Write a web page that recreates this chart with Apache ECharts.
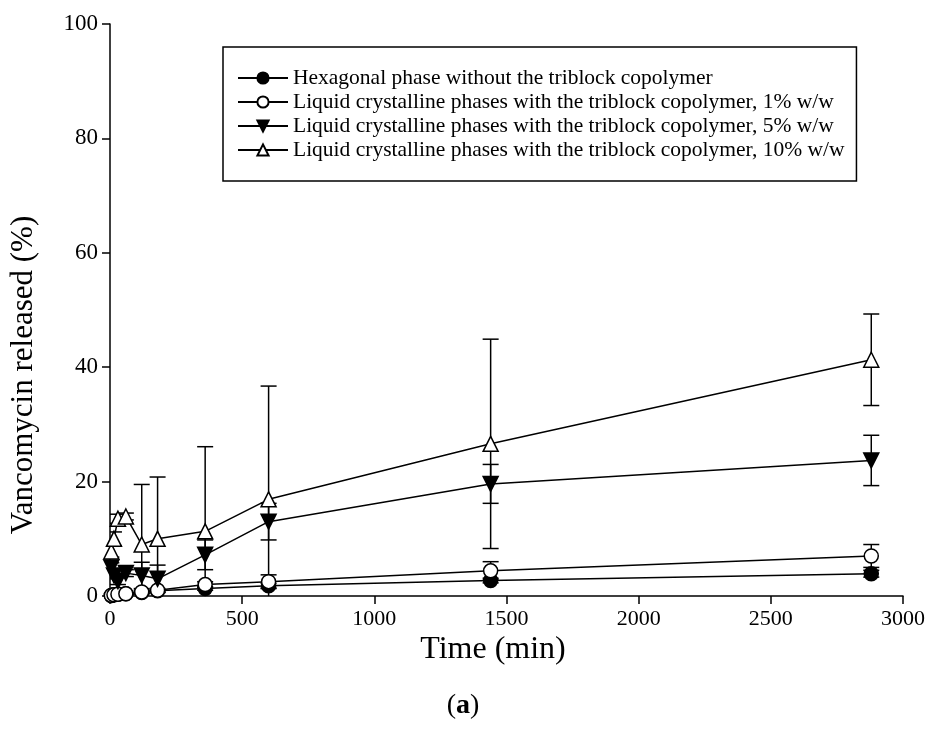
<!DOCTYPE html>
<html>
<head>
<meta charset="utf-8">
<script src="https://cdn.jsdelivr.net/npm/echarts@6/dist/echarts.min.js"></script>
<style>
    html, body { margin: 0; padding: 0; background: #fff; }
    #main { width: 928px; height: 737px; }
</style>
</head>
<body>
<div id="main"></div>
<script>
// release times (min)
var times = [5, 15, 30, 60, 120, 180, 360, 600, 1440, 2880];

// vancomycin released (%) and SD per formulation
var hexValues = [0.1, 0.2, 0.3, 0.4, 0.6, 0.9, 1.3, 1.8, 2.7, 3.9];
var hexSd = [0.1, 0.1, 0.1, 0.1, 0.2, 0.2, 0.3, 0.4, 0.4, 0.6];
var lc1Values = [0.1, 0.2, 0.3, 0.4, 0.7, 1.0, 2.0, 2.5, 4.4, 7.0];
var lc1Sd = [0.1, 0.1, 0.1, 0.2, 0.3, 0.3, 0.5, 1.2, 1.6, 2.0];
var lc5Values = [5.0, 3.6, 2.6, 4.0, 3.6, 3.0, 7.2, 13.0, 19.6, 23.7];
var lc5Sd = [0.8, 0.6, 0.6, 0.6, 2.3, 2.4, 2.6, 3.2, 3.4, 4.4];
var lc10Values = [7.8, 10.0, 13.5, 13.9, 9.0, 10.0, 11.3, 16.9, 26.6, 41.3];
var lc10Sd = [1.0, 1.2, 0.8, 0.6, 10.5, 10.8, 14.8, 19.8, 18.3, 8.0];

var seriesNames = [
    'Hexagonal phase without the triblock copolymer',
    'Liquid crystalline phases with the triblock copolymer, 1% w/w',
    'Liquid crystalline phases with the triblock copolymer, 5% w/w',
    'Liquid crystalline phases with the triblock copolymer, 10% w/w'
];

var xTicks = [0, 500, 1000, 1500, 2000, 2500, 3000];
var yTicks = [0, 20, 40, 60, 80, 100];

var font = '"Liberation Serif", "Times New Roman", serif';

function pairs(values) {
    var out = [];
    for (var i = 0; i < times.length; i++) {
        out.push([times[i], values[i]]);
    }
    return out;
}

function errData(values, sd) {
    var out = [];
    for (var i = 0; i < times.length; i++) {
        out.push([times[i], values[i] - sd[i], values[i] + sd[i]]);
    }
    return out;
}

// vertical bar with caps, clipped to the grid
function renderErr(params, api) {
    var x = api.value(0);
    var lo = Math.max(api.value(1), 0);
    var hi = api.value(2);
    var p1 = api.coord([x, lo]);
    var p2 = api.coord([x, hi]);
    var hw = 8;
    var style = {stroke: '#000', lineWidth: 1.5};
    var children = [
        {type: 'line', shape: {x1: p1[0], y1: p1[1], x2: p2[0], y2: p2[1]}, style: style},
        {type: 'line', shape: {x1: p2[0] - hw, y1: p2[1], x2: p2[0] + hw, y2: p2[1]}, style: style}
    ];
    if (api.value(1) > 0) {
        children.push({type: 'line', shape: {x1: p1[0] - hw, y1: p1[1], x2: p1[0] + hw, y2: p1[1]}, style: style});
    }
    return {type: 'group', children: children};
}

function errSeries(values, sd, z) {
    return {
        type: 'custom',
        renderItem: renderErr,
        data: errData(values, sd),
        encode: {x: 0, y: [1, 2]},
        clip: true,
        silent: true,
        z: z
    };
}

function lineSeries(name, values, symbol, fill, rotate, size, z) {
    return {
        name: name,
        type: 'line',
        data: pairs(values),
        symbol: symbol,
        symbolSize: size,
        symbolRotate: rotate,
        showAllSymbol: true,
        lineStyle: {color: '#000', width: 1.5},
        itemStyle: {color: fill, borderColor: '#000', borderWidth: 1.5},
        emphasis: {disabled: true},
        animation: false,
        z: z
    };
}

var dom = document.getElementById('main');
var myChart = echarts.init(dom);

var option = {
    backgroundColor: '#fff',
    animation: false,
    grid: {
        left: 110,
        right: 21,
        top: 24,
        bottom: 141
    },
    legend: {
        left: 223,
        top: 47,
        orient: 'vertical',
        data: seriesNames,
        itemWidth: 50,
        itemHeight: 14,
        itemGap: 2,
        padding: [20, 12, 20, 14],
        borderColor: '#000',
        borderWidth: 1.5,
        backgroundColor: '#fff',
        selectedMode: false,
        textStyle: {fontFamily: font, fontSize: 21.5, color: '#000'}
    },
    xAxis: {
        type: 'value',
        min: 0,
        max: 3000,
        interval: 500,
        splitLine: {show: false},
        axisLine: {lineStyle: {color: '#000', width: 1.5}},
        axisTick: {inside: false, length: 8, lineStyle: {color: '#000', width: 1.5}},
        axisLabel: {
            fontFamily: font, fontSize: 22, color: '#000', margin: 12,
            formatter: function (v) { return xTicks.indexOf(v) >= 0 ? String(v) : ''; }
        }
    },
    yAxis: {
        type: 'value',
        min: 0,
        max: 100,
        interval: 20,
        splitLine: {show: false},
        axisLine: {show: true, lineStyle: {color: '#000', width: 1.5}},
        axisTick: {show: true, inside: false, length: 8, lineStyle: {color: '#000', width: 1.5}},
        axisLabel: {
            fontFamily: font, fontSize: 23, color: '#000', margin: 12,
            formatter: function (v) { return yTicks.indexOf(v) >= 0 ? String(v) : ''; }
        }
    },
    graphic: [
        {
            type: 'text',
            x: 493,
            y: 650,
            style: {
                text: 'Time (min)',
                fontFamily: font,
                fontSize: 32,
                fill: '#000',
                align: 'center',
                verticalAlign: 'middle'
            }
        },
        {
            type: 'text',
            x: 24,
            y: 375,
            rotation: Math.PI / 2,
            style: {
                text: 'Vancomycin released (%)',
                fontFamily: font,
                fontSize: 31,
                fill: '#000',
                align: 'center',
                verticalAlign: 'middle'
            }
        },
        {
            type: 'text',
            x: 463,
            y: 706,
            style: {
                text: '({b|a})',
                fontFamily: font,
                fontSize: 28,
                fill: '#000',
                align: 'center',
                verticalAlign: 'middle',
                rich: {b: {fontFamily: font, fontSize: 28, fontWeight: 'bold'}}
            }
        }
    ],
    series: [
        errSeries(hexValues, hexSd, 1),
        errSeries(lc1Values, lc1Sd, 1),
        errSeries(lc5Values, lc5Sd, 1),
        errSeries(lc10Values, lc10Sd, 1),
        lineSeries(seriesNames[0], hexValues, 'circle', '#000', 0, 14, 5),
        lineSeries(seriesNames[1], lc1Values, 'circle', '#fff', 0, 14, 6),
        lineSeries(seriesNames[2], lc5Values, 'triangle', '#000', 180, 15, 7),
        lineSeries(seriesNames[3], lc10Values, 'triangle', '#fff', 0, 15, 8)
    ]
};

if (option && typeof option === "object") {
    myChart.setOption(option, true);
}
</script>
</body>
</html>
